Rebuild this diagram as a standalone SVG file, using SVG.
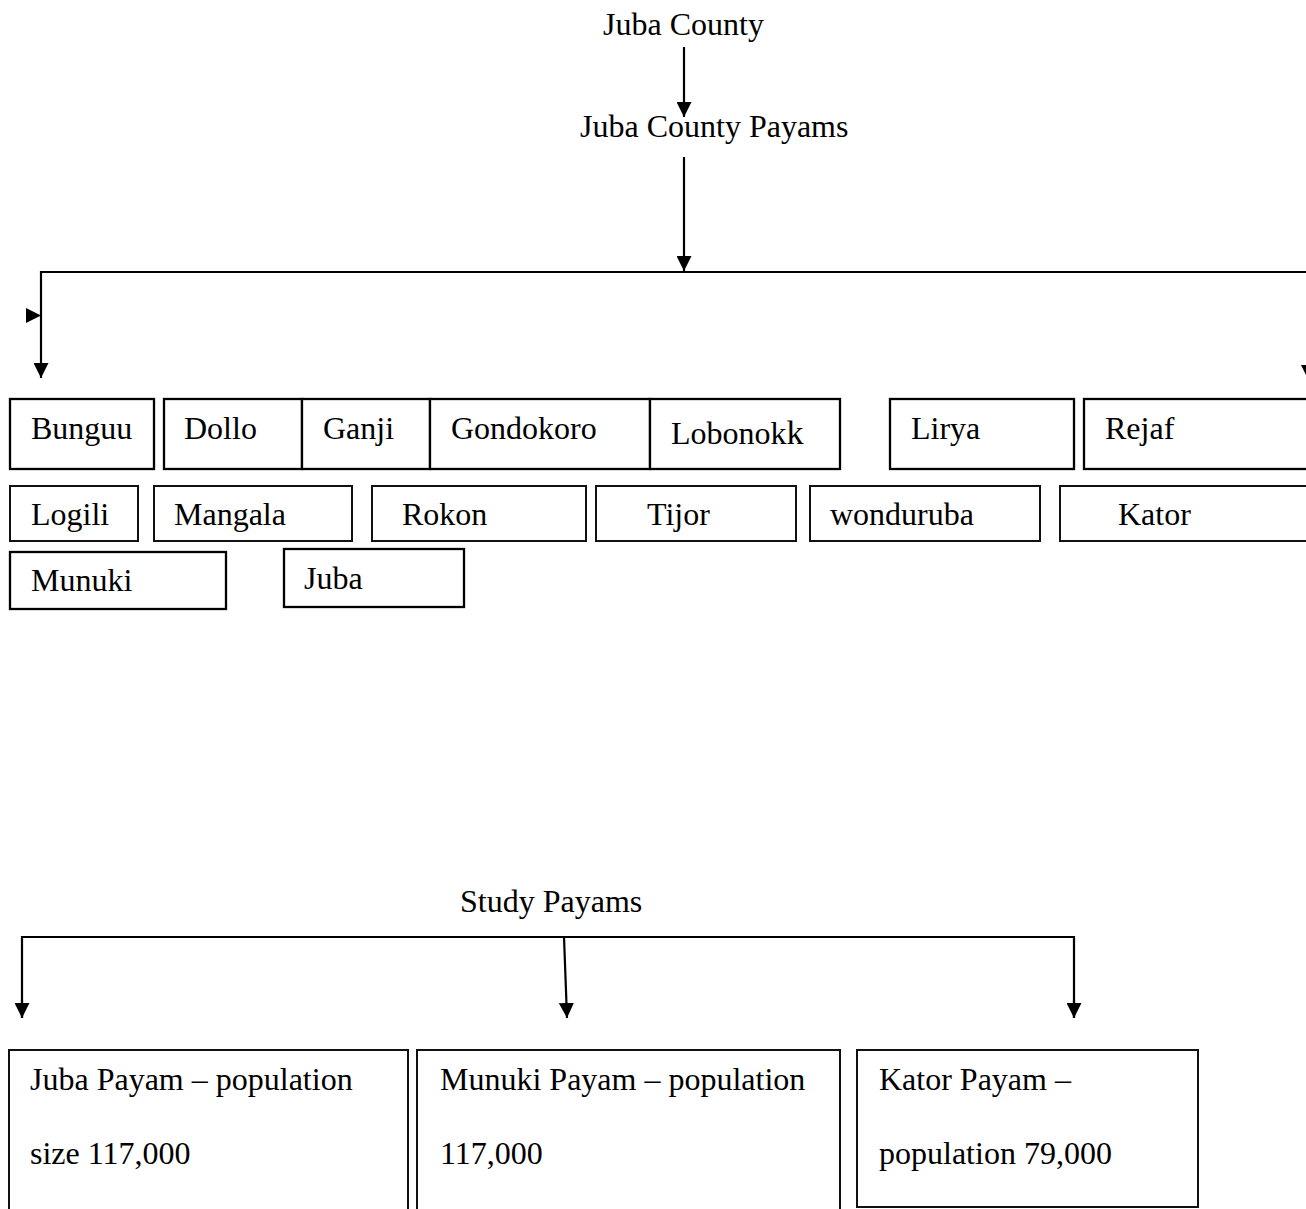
<svg xmlns="http://www.w3.org/2000/svg" width="1306" height="1209" viewBox="0 0 1306 1209">
<defs>
<marker id="arr" markerUnits="userSpaceOnUse" markerWidth="15" markerHeight="15" refX="15" refY="7.5" orient="auto">
<path d="M0,0 L15,7.5 L0,15 z" fill="#000"/>
</marker>
<style>
text{font-family:"Liberation Serif","Times New Roman",serif;font-size:32px;fill:#000}
.b1{fill:#fff;stroke:#000;stroke-width:2.3}
.b2{fill:#fff;stroke:#111;stroke-width:2}
.ln{fill:none;stroke:#000;stroke-width:2.2}
</style>
</defs>
<rect width="1306" height="1209" fill="#fff"/>
<g id="connectors">
<line class="ln" x1="684" y1="47" x2="684" y2="117" marker-end="url(#arr)"/>
<line class="ln" x1="684" y1="157" x2="684" y2="271" marker-end="url(#arr)"/>
<polyline class="ln" points="41,272 1310,272"/>
<line class="ln" x1="41" y1="271" x2="41" y2="378" marker-end="url(#arr)"/>
<polygon points="26,308 41,315.5 26,323" fill="#000"/>
<line class="ln" x1="1308.5" y1="271" x2="1308.5" y2="380" marker-end="url(#arr)"/>
<polyline class="ln" points="22,1018 22,937 1074,937 1074,1018"/>
<line class="ln" x1="22" y1="1000" x2="22" y2="1018" marker-end="url(#arr)"/>
<line class="ln" x1="1074" y1="1000" x2="1074" y2="1018" marker-end="url(#arr)"/>
<line class="ln" x1="564" y1="937" x2="567" y2="1018" marker-end="url(#arr)"/>
</g>
<g id="juba-county"><text x="603" y="35">Juba County</text></g>
<g id="juba-county-payams"><text x="580" y="137">Juba County Payams</text></g>
<g id="bunguu"><rect class="b1" x="10" y="399" width="144" height="70"/><text x="31" y="439">Bunguu</text></g>
<g id="dollo"><rect class="b1" x="164" y="399" width="138" height="70"/><text x="184" y="439">Dollo</text></g>
<g id="ganji"><rect class="b1" x="302" y="399" width="128" height="70"/><text x="323" y="439">Ganji</text></g>
<g id="gondokoro"><rect class="b1" x="430" y="399" width="220" height="70"/><text x="451" y="439">Gondokoro</text></g>
<g id="lobonokk"><rect class="b1" x="650" y="399" width="190" height="70"/><text x="671" y="444">Lobonok<tspan font-size="34">k</tspan></text></g>
<g id="lirya"><rect class="b1" x="890" y="399" width="184" height="70"/><text x="911" y="439">Lirya</text></g>
<g id="rejaf"><rect class="b1" x="1084" y="399" width="230" height="70"/><text x="1105" y="439">Rejaf</text></g>
<g id="logili"><rect class="b2" x="10" y="486" width="128" height="55"/><text x="31" y="525">Logili</text></g>
<g id="mangala"><rect class="b2" x="154" y="486" width="198" height="55"/><text x="174" y="525">Mangala</text></g>
<g id="rokon"><rect class="b2" x="372" y="486" width="214" height="55"/><text x="402" y="525">Rokon</text></g>
<g id="tijor"><rect class="b2" x="596" y="486" width="200" height="55"/><text x="647" y="525">Tijor</text></g>
<g id="wonduruba"><rect class="b2" x="810" y="486" width="230" height="55"/><text x="830" y="525">wonduruba</text></g>
<g id="kator"><rect class="b2" x="1060" y="486" width="254" height="55"/><text x="1118" y="525">Kator</text></g>
<g id="munuki"><rect class="b1" x="10" y="552" width="216" height="57"/><text x="31" y="591">Munuki</text></g>
<g id="juba"><rect class="b1" x="284" y="549" width="180" height="58"/><text x="304" y="589">Juba</text></g>
<g id="study-payams"><text x="460" y="912">Study Payams</text></g>
<g id="juba-payam"><rect class="b2" x="9" y="1050" width="399" height="180"/><text x="30" y="1090">Juba Payam – population</text><text x="30" y="1164">size 117,000</text></g>
<g id="munuki-payam"><rect class="b2" x="417" y="1050" width="423" height="180"/><text x="440" y="1090">Munuki Payam – population</text><text x="440" y="1164">117,000</text></g>
<g id="kator-payam"><rect class="b2" x="857" y="1050" width="341" height="157"/><text x="879" y="1090">Kator Payam –</text><text x="879" y="1164">population 79,000</text></g>
</svg>
